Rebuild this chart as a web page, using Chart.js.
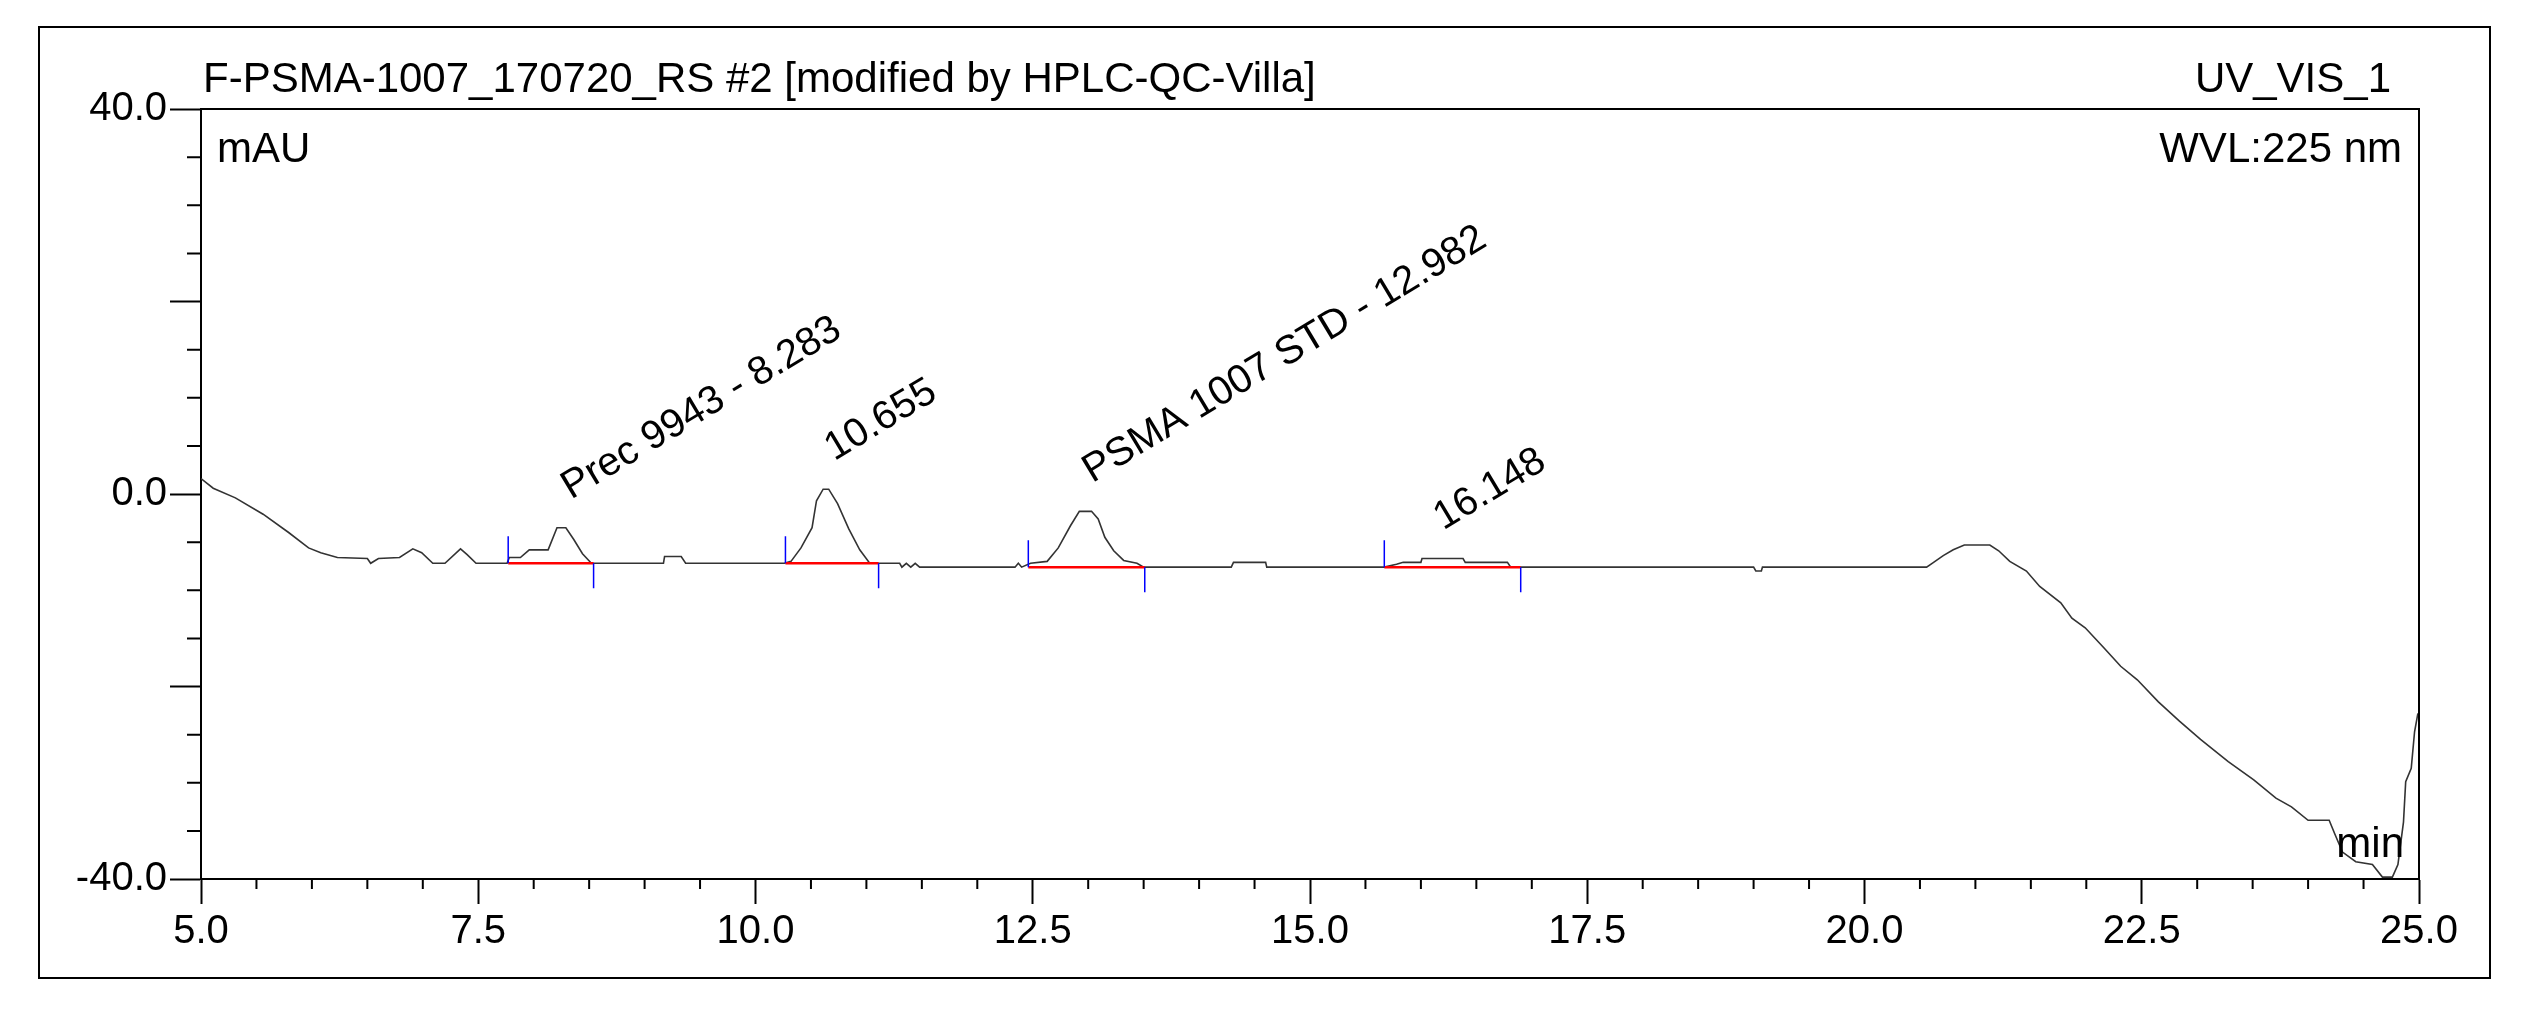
<!DOCTYPE html>
<html>
<head>
<meta charset="utf-8">
<script src="https://cdn.jsdelivr.net/npm/chart.js@4.4.1/dist/chart.umd.min.js"></script>
<style>
  html, body { margin: 0; padding: 0; background: #fff; }
  canvas { display: block; }
</style>
</head>
<body>
<canvas id="chromChart" width="2540" height="1012"></canvas>
<script>
// trace: retention time (min) / signal (mAU)
const retTime = [
  5.00, 5.11, 5.31, 5.56, 5.79, 5.97, 6.08, 6.23, 6.50, 6.53, 6.60, 6.79, 6.91, 6.99,
  7.09, 7.20, 7.34, 7.40, 7.48, 7.76, 7.78, 7.88, 7.96, 8.13, 8.21, 8.29, 8.36, 8.44,
  8.52, 9.17, 9.18, 9.33, 9.37, 10.26, 10.32, 10.41, 10.51, 10.55, 10.61, 10.66, 10.74,
  10.84, 10.94, 11.03, 11.30, 11.32, 11.36, 11.40, 11.44, 11.48, 12.34, 12.37, 12.40,
  12.48, 12.63, 12.73, 12.84, 12.92, 13.03, 13.09, 13.15, 13.23, 13.32, 13.44, 13.50,
  14.29, 14.31, 14.60, 14.61, 15.67, 15.78, 15.84, 16.00, 16.01, 16.38, 16.40, 16.78,
  16.81, 19.00, 19.02, 19.07, 19.08, 20.56, 20.61, 20.71, 20.80, 20.90, 21.13, 21.21,
  21.31, 21.46, 21.58, 21.77, 21.87, 21.99, 22.16, 22.31, 22.46, 22.65, 22.84, 23.03,
  23.28, 23.51, 23.71, 23.85, 24.00, 24.19, 24.24, 24.31, 24.43, 24.58, 24.67, 24.76,
  24.81, 24.86, 24.88, 24.93, 24.96, 24.99
];
const signal = [
  1.6, 0.6, -0.4, -2.1, -4.0, -5.6, -6.1, -6.6, -6.7, -7.2, -6.7, -6.6, -5.7, -6.1,
  -7.2, -7.2, -5.7, -6.3, -7.2, -7.2, -6.6, -6.6, -5.8, -5.8, -3.5, -3.5, -4.7, -6.2,
  -7.2, -7.2, -6.5, -6.5, -7.2, -7.2, -7.0, -5.6, -3.5, -0.7, 0.5, 0.5, -1.0,
  -3.6, -5.8, -7.2, -7.2, -7.6, -7.2, -7.6, -7.2, -7.6, -7.6, -7.2, -7.6,
  -7.2, -7.0, -5.6, -3.3, -1.8, -1.8, -2.6, -4.5, -5.9, -6.9, -7.2, -7.6,
  -7.6, -7.1, -7.1, -7.6, -7.6, -7.3, -7.1, -7.1, -6.7, -6.7, -7.1, -7.1,
  -7.6, -7.6, -8.0, -8.0, -7.6, -7.6, -7.2, -6.4, -5.8, -5.3, -5.3, -5.9,
  -7.0, -8.0, -9.6, -11.3, -12.9, -13.9, -16.0, -17.9, -19.3, -21.6, -23.6, -25.5,
  -27.8, -29.7, -31.6, -32.5, -33.9, -33.9, -35.3, -37.2, -38.2, -38.5, -39.8, -39.8,
  -38.5, -34.1, -29.9, -28.5, -24.7, -22.8
];

// integrated peaks
const peakNames = ['Prec 9943 - 8.283', '10.655', 'PSMA 1007 STD - 12.982', '16.148'];
const peakRT = [8.283, 10.655, 12.982, 16.148];
const peakApex = [-3.5, 0.5, -1.8, -6.7];
const peakStart = [7.77, 10.27, 12.46, 15.67];
const peakEnd = [8.54, 11.11, 13.51, 16.90];
const peakBase = [-7.2, -7.2, -7.6, -7.6];

// axes
const xMin = 5, xMax = 25, xStep = 2.5, xMinor = 0.5;
const yMin = -40, yMax = 40, yStep = 20, yMinor = 5;
const yLabels = [40, 0, -40];

const FONT = '"Liberation Sans", Arial, sans-serif';

const traceData = retTime.map((t, i) => ({ x: t, y: signal[i] }));

const baselineSets = peakStart.map((s, i) => ({
  data: [{ x: s, y: peakBase[i] }, { x: peakEnd[i], y: peakBase[i] }],
  borderColor: '#ff0000',
  borderWidth: 2.5,
  pointRadius: 0,
  showLine: true,
  order: 0
}));

const decorations = {
  id: 'decorations',
  afterDraw(chart) {
    const ctx = chart.ctx;
    const a = chart.chartArea;
    const x = chart.scales.x;
    const y = chart.scales.y;
    ctx.save();

    // outer frame and plot frame (top, right)
    ctx.strokeStyle = '#000';
    ctx.lineWidth = 2;
    ctx.strokeRect(39, 27, 2451, 951);
    ctx.beginPath();
    ctx.moveTo(a.left, a.top);
    ctx.lineTo(a.right, a.top);
    ctx.lineTo(a.right, a.bottom);
    ctx.stroke();

    // minor ticks
    ctx.beginPath();
    const nx = Math.round((xMax - xMin) / xMinor);
    for (let i = 0; i <= nx; i++) {
      if (i % 5 === 0) continue;
      const px = x.getPixelForValue(xMin + i * xMinor);
      ctx.moveTo(px, a.bottom);
      ctx.lineTo(px, a.bottom + 10);
    }
    const ny = Math.round((yMax - yMin) / yMinor);
    for (let i = 0; i <= ny; i++) {
      const v = yMin + i * yMinor;
      if (v % yStep === 0) continue;
      const py = y.getPixelForValue(v);
      ctx.moveTo(a.left, py);
      ctx.lineTo(a.left - 14, py);
    }
    ctx.stroke();

    // peak start / end markers
    ctx.strokeStyle = '#0000ff';
    ctx.lineWidth = 1.5;
    ctx.beginPath();
    peakStart.forEach((s, i) => {
      const pb = y.getPixelForValue(peakBase[i]);
      const ps = x.getPixelForValue(s);
      const pe = x.getPixelForValue(peakEnd[i]);
      ctx.moveTo(ps, pb);
      ctx.lineTo(ps, pb - 27);
      ctx.moveTo(pe, pb);
      ctx.lineTo(pe, pb + 25);
    });
    ctx.stroke();

    // peak labels
    ctx.fillStyle = '#000';
    ctx.font = '40px ' + FONT;
    ctx.textAlign = 'left';
    ctx.textBaseline = 'alphabetic';
    peakNames.forEach((name, i) => {
      const px = x.getPixelForValue(peakRT[i]) + 6;
      const py = y.getPixelForValue(peakApex[i]) - 28;
      ctx.save();
      ctx.translate(px, py);
      ctx.rotate(-31 * Math.PI / 180);
      ctx.fillText(name, 0, 0);
      ctx.restore();
    });

    // header and axis captions
    ctx.font = '42px ' + FONT;
    ctx.textAlign = 'left';
    ctx.fillText('F-PSMA-1007_170720_RS #2 [modified by HPLC-QC-Villa]', 203, 92);
    ctx.fillText('mAU', 217, 162);
    ctx.textAlign = 'right';
    ctx.fillText('UV_VIS_1', 2391, 92);
    ctx.fillText('WVL:225 nm', 2402, 162);
    ctx.fillText('min', 2404, 857);
    ctx.restore();
  }
};

new Chart(document.getElementById('chromChart'), {
  type: 'scatter',
  data: {
    datasets: [
      ...baselineSets,
      {
        data: traceData,
        showLine: true,
        borderColor: '#333333',
        borderWidth: 1.6,
        pointRadius: 0,
        tension: 0,
        order: 1
      }
    ]
  },
  options: {
    responsive: false,
    devicePixelRatio: 1,
    animation: false,
    layout: { padding: { left: 0, top: 109, right: 121, bottom: 0 } },
    plugins: {
      legend: { display: false },
      tooltip: { enabled: false }
    },
    scales: {
      x: {
        type: 'linear',
        min: xMin,
        max: xMax,
        afterFit: (scale) => { scale.height = 133; },
        border: { display: true, color: '#000', width: 2 },
        grid: { drawOnChartArea: false, tickLength: 25, tickColor: '#000', tickWidth: 2 },
        ticks: {
          stepSize: xStep,
          autoSkip: false,
          maxRotation: 0,
          padding: 4,
          color: '#000',
          font: { family: FONT, size: 40 },
          callback: (v) => v.toFixed(1)
        }
      },
      y: {
        type: 'linear',
        min: yMin,
        max: yMax,
        afterFit: (scale) => { scale.width = 201; },
        border: { display: true, color: '#000', width: 2 },
        grid: { drawOnChartArea: false, tickLength: 31, tickColor: '#000', tickWidth: 2 },
        ticks: {
          stepSize: yStep,
          autoSkip: false,
          padding: 3,
          color: '#000',
          font: { family: FONT, size: 40 },
          callback: (v) => yLabels.includes(v) ? v.toFixed(1) : ''
        }
      }
    }
  },
  plugins: [decorations]
});
</script>
</body>
</html>
